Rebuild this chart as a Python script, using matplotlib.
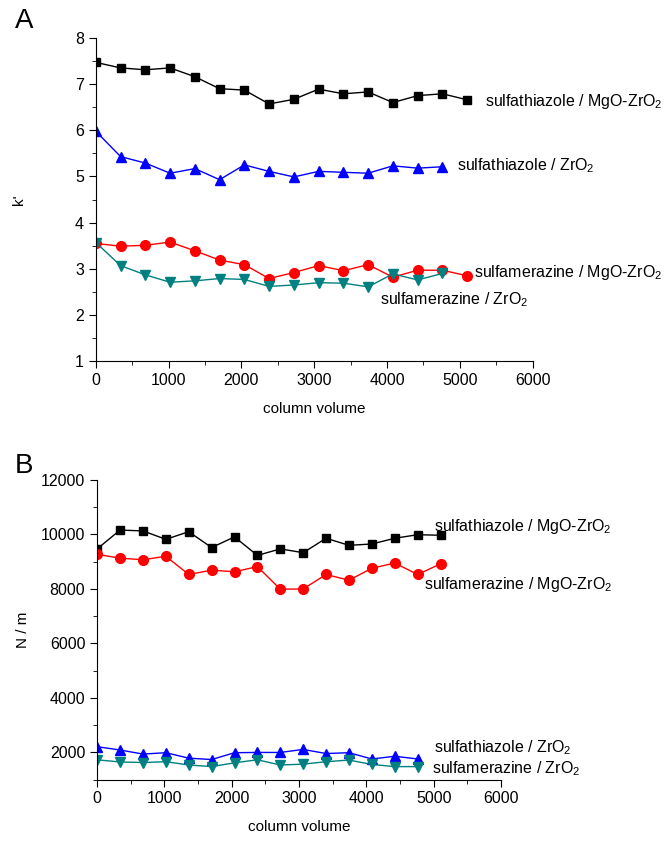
import matplotlib.pyplot as plt
from matplotlib.ticker import MultipleLocator

plt.rcParams['font.family'] = ['Liberation Sans', 'DejaVu Sans']
plt.rcParams['mathtext.fontset'] = 'custom'
plt.rcParams['mathtext.rm'] = 'Liberation Sans'
plt.rcParams['mathtext.it'] = 'Liberation Sans'

# column volume
cv = [0, 340, 680, 1020, 1360, 1700, 2040, 2380, 2720, 3060, 3400, 3740, 4080, 4420, 4760, 5100]

# panel A: k'
k_sta_mgo = [7.47, 7.35, 7.31, 7.35, 7.16, 6.90, 6.87, 6.57, 6.67, 6.89, 6.79, 6.83, 6.60, 6.75, 6.79, 6.66]
k_sta_zro = [5.98, 5.43, 5.29, 5.07, 5.17, 4.93, 5.25, 5.11, 4.99, 5.11, 5.09, 5.07, 5.23, 5.18, 5.21]
k_sme_mgo = [3.55, 3.49, 3.51, 3.58, 3.39, 3.19, 3.09, 2.79, 2.92, 3.07, 2.96, 3.09, 2.82, 2.97, 2.97, 2.85]
k_sme_zro = [3.57, 3.07, 2.87, 2.71, 2.74, 2.79, 2.77, 2.62, 2.65, 2.70, 2.69, 2.61, 2.89, 2.76, 2.90]

# panel B: N / m
n_sta_mgo = [9470, 10160, 10130, 9820, 10100, 9520, 9910, 9230, 9470, 9330, 9860, 9600, 9650, 9860, 9990, 9970]
n_sme_mgo = [9270, 9130, 9070, 9200, 8530, 8690, 8630, 8820, 7990, 8000, 8530, 8320, 8760, 8950, 8530, 8920]
n_sta_zro = [2210, 2090, 1940, 1990, 1790, 1740, 1990, 2000, 2000, 2110, 1960, 1990, 1760, 1860, 1760]
n_sme_zro = [1730, 1650, 1630, 1660, 1540, 1480, 1620, 1730, 1540, 1570, 1660, 1720, 1560, 1480, 1480]

fig = plt.figure(figsize=(6.7, 8.42), dpi=100)
axA = fig.add_axes([0.143, 0.571, 0.652, 0.384])
axB = fig.add_axes([0.145, 0.074, 0.603, 0.356])

def style(ax):
    for s in ['top', 'right']:
        ax.spines[s].set_visible(False)
    ax.tick_params(which='major', direction='out', length=5, labelsize=11.5)
    ax.tick_params(which='minor', direction='out', length=3)
    ax.xaxis.set_major_locator(MultipleLocator(1000))
    ax.xaxis.set_minor_locator(MultipleLocator(500))
    ax.set_xlim(0, 6000)
    ax.set_xlabel('column volume', fontsize=11, labelpad=10)

# panel A
axA.plot(cv, k_sta_mgo, color='black', marker='s', ms=6, lw=1)
axA.plot(cv[:15], k_sta_zro, color='blue', marker='^', ms=7, lw=1)
axA.plot(cv, k_sme_mgo, color='red', marker='o', ms=7, lw=1)
axA.plot(cv[:15], k_sme_zro, color='#008080', marker='v', ms=7, lw=1)
style(axA)
axA.set_ylim(1, 8)
axA.yaxis.set_major_locator(MultipleLocator(1))
axA.yaxis.set_minor_locator(MultipleLocator(0.5))
axA.set_ylabel("k'", fontsize=11)
axA.yaxis.set_label_coords(-0.16, 0.5)

fsz = 11.5
axA.text(5340, 6.63, 'sulfathiazole / MgO-ZrO$_2$', fontsize=fsz, va='center', clip_on=False)
axA.text(4960, 5.23, 'sulfathiazole / ZrO$_2$', fontsize=fsz, va='center', clip_on=False)
axA.text(5190, 2.93, 'sulfamerazine / MgO-ZrO$_2$', fontsize=fsz, va='center', clip_on=False)
axA.text(3900, 2.34, 'sulfamerazine / ZrO$_2$', fontsize=fsz, va='center', clip_on=False)

# panel B
axB.plot(cv, n_sta_mgo, color='black', marker='s', ms=6, lw=1)
axB.plot(cv, n_sme_mgo, color='red', marker='o', ms=7, lw=1)
axB.plot(cv[:15], n_sta_zro, color='blue', marker='^', ms=7, lw=1)
axB.plot(cv[:15], n_sme_zro, color='#008080', marker='v', ms=7, lw=1)
style(axB)
axB.set_ylim(1000, 12000)
axB.set_yticks([2000, 4000, 6000, 8000, 10000, 12000])
axB.yaxis.set_minor_locator(MultipleLocator(1000))
axB.set_ylabel('N / m', fontsize=11, labelpad=8)

axB.text(5000, 10300, 'sulfathiazole / MgO-ZrO$_2$', fontsize=fsz, va='center', clip_on=False)
axB.text(4850, 8160, 'sulfamerazine / MgO-ZrO$_2$', fontsize=fsz, va='center', clip_on=False)
axB.text(5000, 2170, 'sulfathiazole / ZrO$_2$', fontsize=fsz, va='center', clip_on=False)
axB.text(4970, 1410, 'sulfamerazine / ZrO$_2$', fontsize=fsz, va='center', clip_on=False)

fig.text(0.022, 0.975, 'A', fontsize=20, va='center')
fig.text(0.022, 0.447, 'B', fontsize=20, va='center')

fig.savefig('out.png', dpi=100)
